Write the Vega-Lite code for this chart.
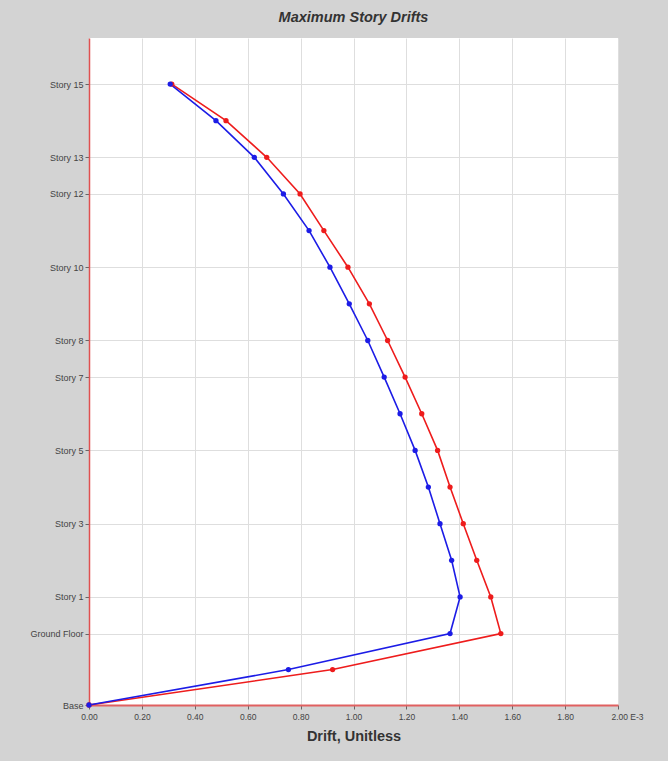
{
  "$schema": "https://vega.github.io/schema/vega-lite/v6.json",
  "autosize": {"type": "none"},
  "width": 529,
  "height": 667,
  "padding": {"left": 89, "top": 38, "right": 50, "bottom": 56},
  "background": "#d3d3d3",
  "view": {"fill": "white", "stroke": null},
  "title": {
    "text": "Maximum Story Drifts",
    "font": "Liberation Sans",
    "fontSize": 14.5,
    "fontWeight": "bold",
    "fontStyle": "italic",
    "color": "#333333",
    "anchor": "middle",
    "offset": 13
  },
  "data": {
    "values": [
      {"series": "Y", "story": "Base", "elev": 0, "drift": 0},
      {"series": "Y", "story": "Plinth", "elev": 290, "drift": 0.921},
      {"series": "Y", "story": "Ground Floor", "elev": 585, "drift": 1.557},
      {"series": "Y", "story": "Story 1", "elev": 885, "drift": 1.519},
      {"series": "Y", "story": "Story 2", "elev": 1185, "drift": 1.466},
      {"series": "Y", "story": "Story 3", "elev": 1485, "drift": 1.415},
      {"series": "Y", "story": "Story 4", "elev": 1785, "drift": 1.365},
      {"series": "Y", "story": "Story 5", "elev": 2085, "drift": 1.318},
      {"series": "Y", "story": "Story 6", "elev": 2385, "drift": 1.258},
      {"series": "Y", "story": "Story 7", "elev": 2685, "drift": 1.195},
      {"series": "Y", "story": "Story 8", "elev": 2985, "drift": 1.129},
      {"series": "Y", "story": "Story 9", "elev": 3285, "drift": 1.06},
      {"series": "Y", "story": "Story 10", "elev": 3585, "drift": 0.979},
      {"series": "Y", "story": "Story 11", "elev": 3885, "drift": 0.888},
      {"series": "Y", "story": "Story 12", "elev": 4185, "drift": 0.798},
      {"series": "Y", "story": "Story 13", "elev": 4485, "drift": 0.672},
      {"series": "Y", "story": "Story 14", "elev": 4785, "drift": 0.518},
      {"series": "Y", "story": "Story 15", "elev": 5085, "drift": 0.313},
      {"series": "X", "story": "Base", "elev": 0, "drift": 0},
      {"series": "X", "story": "Plinth", "elev": 290, "drift": 0.754},
      {"series": "X", "story": "Ground Floor", "elev": 585, "drift": 1.365},
      {"series": "X", "story": "Story 1", "elev": 885, "drift": 1.403},
      {"series": "X", "story": "Story 2", "elev": 1185, "drift": 1.371},
      {"series": "X", "story": "Story 3", "elev": 1485, "drift": 1.327},
      {"series": "X", "story": "Story 4", "elev": 1785, "drift": 1.283},
      {"series": "X", "story": "Story 5", "elev": 2085, "drift": 1.233},
      {"series": "X", "story": "Story 6", "elev": 2385, "drift": 1.176},
      {"series": "X", "story": "Story 7", "elev": 2685, "drift": 1.116},
      {"series": "X", "story": "Story 8", "elev": 2985, "drift": 1.054},
      {"series": "X", "story": "Story 9", "elev": 3285, "drift": 0.984},
      {"series": "X", "story": "Story 10", "elev": 3585, "drift": 0.911},
      {"series": "X", "story": "Story 11", "elev": 3885, "drift": 0.832},
      {"series": "X", "story": "Story 12", "elev": 4185, "drift": 0.735},
      {"series": "X", "story": "Story 13", "elev": 4485, "drift": 0.625},
      {"series": "X", "story": "Story 14", "elev": 4785, "drift": 0.48},
      {"series": "X", "story": "Story 15", "elev": 5085, "drift": 0.307}
    ]
  },
  "encoding": {
    "x": {
      "field": "drift",
      "type": "quantitative",
      "scale": {"domain": [0, 2], "nice": false, "zero": true},
      "axis": {
        "values": [0, 0.2, 0.4, 0.6, 0.8, 1.0, 1.2, 1.4, 1.6, 1.8, 2.0],
        "labelExpr": "datum.value == 2 ? '2.00 E-3' : format(datum.value, '.2f')",
        "labelOffset": {"condition": {"test": "datum.value == 2", "value": 9}, "value": 0},
        "title": "Drift, Unitless",
        "titleFont": "Liberation Sans",
        "titleFontSize": 14.5,
        "titleFontWeight": "bold",
        "titleColor": "#333333",
        "titlePadding": 9,
        "labelFont": "Liberation Sans",
        "labelFontSize": 8.5,
        "labelColor": "#444444",
        "labelPadding": 3,
        "labelFlush": false,
        "domainColor": "#e06060",
        "domainWidth": 2,
        "tickColor": "#666666",
        "tickSize": 4,
        "grid": true,
        "gridColor": "#dedede",
        "gridWidth": 1
      }
    },
    "y": {
      "field": "elev",
      "type": "quantitative",
      "scale": {"domain": [0, 5462], "nice": false, "zero": true},
      "axis": {
        "values": [0, 585, 885, 1485, 2085, 2685, 2985, 3585, 4185, 4485, 5085],
        "labelExpr": "datum.value == 0 ? 'Base' : datum.value == 585 ? 'Ground Floor' : 'Story ' + round((datum.value - 585) / 300)",
        "title": null,
        "labelFont": "Liberation Sans",
        "labelFontSize": 9,
        "labelColor": "#444444",
        "labelPadding": 2,
        "labelFlush": false,
        "domainColor": "#e05050",
        "domainWidth": 1.5,
        "tickColor": "#666666",
        "tickSize": 4,
        "grid": true,
        "gridColor": "#dedede",
        "gridWidth": 1
      }
    },
    "color": {
      "field": "series",
      "type": "nominal",
      "scale": {"domain": ["Y", "X"], "range": ["#ee1c1c", "#1c1ce6"]},
      "legend": null
    }
  },
  "layer": [
    {
      "mark": {"type": "line", "strokeWidth": 1.6},
      "encoding": {"order": {"field": "elev", "type": "quantitative"}}
    },
    {
      "mark": {"type": "point", "filled": true, "size": 28, "opacity": 1}
    }
  ]
}
